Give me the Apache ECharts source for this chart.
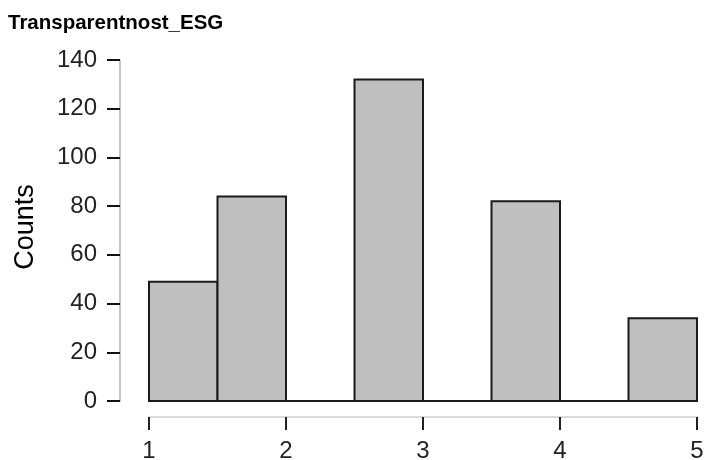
<!DOCTYPE html>
<html>
<head>
<meta charset="utf-8">
<script src="https://cdn.jsdelivr.net/npm/echarts@6/dist/echarts.min.js"></script>
<style>
  html, body { margin: 0; padding: 0; background: #ffffff; }
  #chart { width: 708px; height: 460px; }
</style>
</head>
<body>
<div id="chart"></div>
<script>
// Histogram bins (left edge, right edge) and their counts
const binStarts = [1, 1.5, 2, 2.5, 3, 3.5, 4, 4.5];
const binEnds   = [1.5, 2, 2.5, 3, 3.5, 4, 4.5, 5];
const counts    = [49, 84, 0, 132, 0, 82, 0, 34];
const xTicks    = [1, 2, 3, 4, 5];
const yTicks    = [0, 20, 40, 60, 80, 100, 120, 140];

const titleText = 'Transparentnost_ESG';
const yName = 'Counts';

const chart = echarts.init(document.getElementById('chart'), null, { renderer: 'canvas' });

const histData = binStarts.map((s, i) => [s, binEnds[i], counts[i]]);
const FONT = 'Liberation Sans, Arial, sans-serif';

chart.setOption({
  animation: false,
  backgroundColor: '#ffffff',
  title: {
    text: titleText,
    left: 3,
    top: 8,
    textStyle: { fontFamily: FONT, fontWeight: 'bold', fontSize: 20.5, color: '#000' }
  },
  graphic: [{
    type: 'text',
    x: 26,
    y: 227,
    rotation: Math.PI / 2,
    style: {
      text: yName,
      font: '27px ' + FONT,
      fill: '#000',
      textAlign: 'center',
      textVerticalAlign: 'middle'
    }
  }],
  grid: { left: 149, right: 11, top: 60, bottom: 59, outerBoundsMode: 'none', containLabel: false },
  xAxis: {
    type: 'value',
    min: xTicks[0],
    max: xTicks[xTicks.length - 1],
    interval: 1,
    offset: 16,
    splitLine: { show: false },
    axisLine: { show: true, onZero: false, lineStyle: { color: '#cfcfcf', width: 1.5 } },
    axisTick: { show: true, length: 13, lineStyle: { color: '#222', width: 2 } },
    axisLabel: { fontFamily: FONT, fontSize: 24, color: '#222', margin: 22 }
  },
  yAxis: {
    type: 'value',
    min: yTicks[0],
    max: yTicks[yTicks.length - 1],
    interval: 20,
    offset: 29,
    splitLine: { show: false },
    axisLine: { show: true, onZero: false, lineStyle: { color: '#b5b5b5', width: 1.5 } },
    axisTick: { show: true, length: 13, lineStyle: { color: '#111', width: 2 } },
    axisLabel: { fontFamily: FONT, fontSize: 24, color: '#222', margin: 23 }
  },
  series: [{
    type: 'custom',
    data: histData,
    encode: { x: [0, 1], y: 2 },
    renderItem: function (params, api) {
      const p0 = api.coord([api.value(0), api.value(2)]);
      const p1 = api.coord([api.value(1), 0]);
      return {
        type: 'rect',
        shape: { x: p0[0], y: p0[1], width: p1[0] - p0[0], height: p1[1] - p0[1] },
        style: { fill: '#bfbfbf', stroke: '#1a1a1a', lineWidth: 2 }
      };
    }
  }]
});
</script>
</body>
</html>
